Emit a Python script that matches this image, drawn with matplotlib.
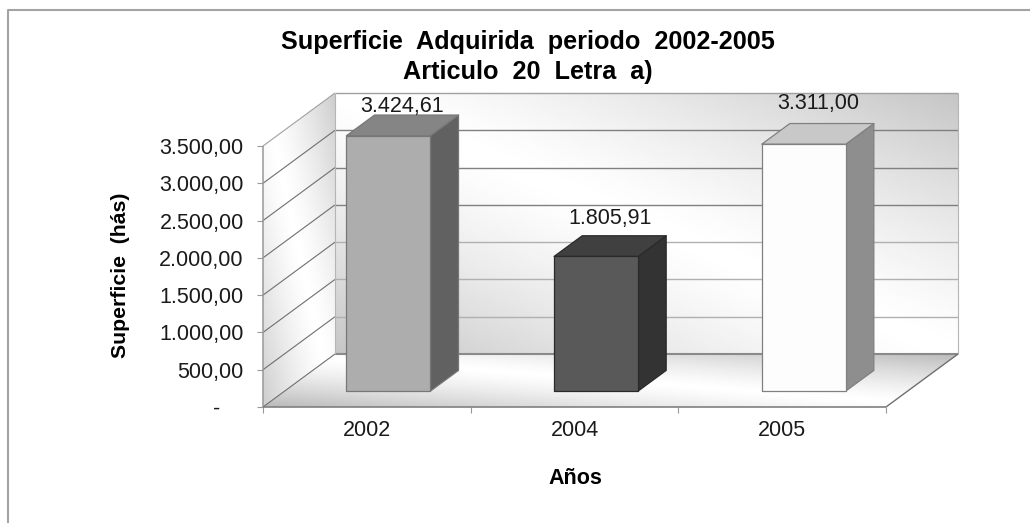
import numpy as np
import matplotlib
matplotlib.use("Agg")
import matplotlib.pyplot as plt
from matplotlib.lines import Line2D
from matplotlib.patches import Polygon

categories = ["2002", "2004", "2005"]
values = [3424.61, 1805.91, 3311.00]
value_labels = ["3.424,61", "1.805,91", "3.311,00"]
y_ticks = [0, 500, 1000, 1500, 2000, 2500, 3000, 3500]
y_tick_labels = ["-    ", "500,00", "1.000,00", "1.500,00", "2.000,00",
                 "2.500,00", "3.000,00", "3.500,00"]
title_text = "Superficie  Adquirida  periodo  2002-2005\nArticulo  20  Letra  a)"
y_title = "Superficie  (hás)"
x_title = "Años"

front_colors = ["#adadad", "#595959", "#fdfdfd"]
top_colors = ["#858585", "#404040", "#c8c8c8"]
side_colors = ["#616161", "#333333", "#8e8e8e"]
edge_colors = ["#777777", "#2a2a2a", "#808080"]
label_gaps = [9, 17, 20]

W, H = 1030, 523
plt.rcParams["font.family"] = ["Liberation Sans", "DejaVu Sans"]
fig = plt.figure(figsize=(W / 100, H / 100), dpi=100)
L, R, T, B = 263, 886, 146, 407
ax = fig.add_axes([L / W, 1 - B / H, (R - L) / W, (B - T) / H])
ax.patch.set_visible(False)
XMIN, XMAX, YMAX = -0.5, 2.5, 3500
DX = 72 / ((R - L) / (XMAX - XMIN))
DY = 53 / ((B - T) / YMAX)


def proj(x, y, d):
    return x + d * DX, y + d * DY


def grad(corners, k, z):
    pts = [proj(*c) for c in corners]
    xs, ys = zip(*pts)
    x0, x1, y0, y1 = min(xs), max(xs), min(ys), max(ys)
    u, v = np.meshgrid(np.linspace(0, 1, 300), np.linspace(0, 1, 300))
    t = np.abs(u + v - 1)
    img = 255 - k * t ** 1.3
    im = ax.imshow(img, cmap="gray", vmin=0, vmax=255, origin="lower",
                   extent=(x0, x1, y0, y1), aspect="auto", zorder=z,
                   interpolation="bilinear")
    clip = Polygon(pts, closed=True, transform=ax.transData, fc="none", ec="none")
    ax.add_patch(clip)
    im.set_clip_path(clip)
    im.set_clip_box(fig.bbox)


grad([(XMIN, 0, 1), (XMAX, 0, 1), (XMAX, YMAX, 1), (XMIN, YMAX, 1)], 58, 1)
grad([(XMIN, 0, 0), (XMIN, 0, 1), (XMIN, YMAX, 1), (XMIN, YMAX, 0)], 50, 1)
grad([(XMIN, 0, 0), (XMAX, 0, 0), (XMAX, 0, 1), (XMIN, 0, 1)], 70, 1)


def seg(p, q, c="#7f7f7f", lw=1.0, z=2):
    a, b = proj(*p), proj(*q)
    ax.plot([a[0], b[0]], [a[1], b[1]], color=c, lw=lw, zorder=z,
            clip_on=False, solid_capstyle="butt")


for i, v in enumerate(y_ticks):
    shade = "#a0a0a0" if i == 7 else ("#b0b0b0" if 1 <= i <= 3 else "#808080")
    if i == 0:
        seg((XMIN, v, 1), (XMAX, v, 1), "#8a8a8a", 1.5)
    else:
        seg((XMIN, v, 1), (XMAX, v, 1), shade, 1.0)
    seg((XMIN, v, 0), (XMIN, v, 1), "#a0a0a0" if i == 7 else "#6f6f6f", 0.8)
seg((XMAX, 0, 1), (XMAX, YMAX, 1), "#b5b5b5", 0.8)
seg((XMIN, 0, 1), (XMIN, YMAX, 1), "#b5b5b5", 0.8)
seg((XMIN, 0, 0), (XMIN, YMAX, 0), "#999999", 1.1)
seg((XMAX, 0, 0), (XMAX, 0, 1), "#6f6f6f", 1.0)
seg((XMIN, 0, 0), (XMAX, 0, 0), "#808080", 1.2, 3)

D0, D1 = 0.30, 0.69
BAR_W = 84 / ((R - L) / (XMAX - XMIN))
for i, v in enumerate(values):
    xa, xb = i - BAR_W / 2, i + BAR_W / 2
    kw = dict(closed=True, ec=edge_colors[i], lw=0.9, zorder=5 + i, clip_on=False,
              joinstyle="round")
    ax.add_patch(Polygon([proj(xb, 0, D0), proj(xb, 0, D1), proj(xb, v, D1), proj(xb, v, D0)],
                         fc=side_colors[i], **kw))
    ax.add_patch(Polygon([proj(xa, v, D0), proj(xb, v, D0), proj(xb, v, D1), proj(xa, v, D1)],
                         fc=top_colors[i], **kw))
    ax.add_patch(Polygon([proj(xa, 0, D0), proj(xb, 0, D0), proj(xb, v, D0), proj(xa, v, D0)],
                         fc=front_colors[i], **kw))
    lx, ly = proj(i, v, D1)
    lx = proj(i, v, (D0 + D1) / 2)[0]
    ax.annotate(value_labels[i], (lx, ly), xytext=(0, label_gaps[i] * 0.72),
                textcoords="offset points", ha="center", va="center",
                fontsize=15.5, color="#1a1a1a", zorder=10, annotation_clip=False)

ax.set_xlim(XMIN, XMAX)
ax.set_ylim(0, YMAX)
for s in ax.spines.values():
    s.set_visible(False)
ax.set_yticks(y_ticks)
ax.set_yticklabels(y_tick_labels, fontsize=15.5, color="#1a1a1a")
ax.tick_params(axis="y", length=4.3, width=0.8, color="#999999", pad=9.5)
ax.set_xticks([-0.5, 0.5, 1.5, 2.5])
ax.set_xticklabels([])
ax.set_xticks([0, 1, 2], minor=True)
ax.set_xticklabels(categories, minor=True, fontsize=15.5, color="#1a1a1a")
ax.tick_params(axis="x", which="major", length=4.3, width=0.8, color="#999999")
ax.tick_params(axis="x", which="minor", length=0, pad=9.5)

fig.text(527.5 / W, 1 - 57 / H, title_text, ha="center", va="center", fontsize=18.2,
         fontweight="bold", color="black", linespacing=1.3)
fig.text(120 / W, 1 - 275 / H, y_title, rotation=90, ha="center", va="center",
         fontsize=15.3, fontweight="bold", color="black")
fig.text(575 / W, 1 - 479 / H, x_title, ha="center", va="center", fontsize=15.5,
         fontweight="bold", color="black")

fig.add_artist(Line2D([7.5 / W, 7.5 / W, 1], [0, 1 - 9.5 / H, 1 - 9.5 / H],
                      color="#a3a3a3", lw=1.5, transform=fig.transFigure))
fig.savefig("out.png", dpi=100, facecolor="white")
